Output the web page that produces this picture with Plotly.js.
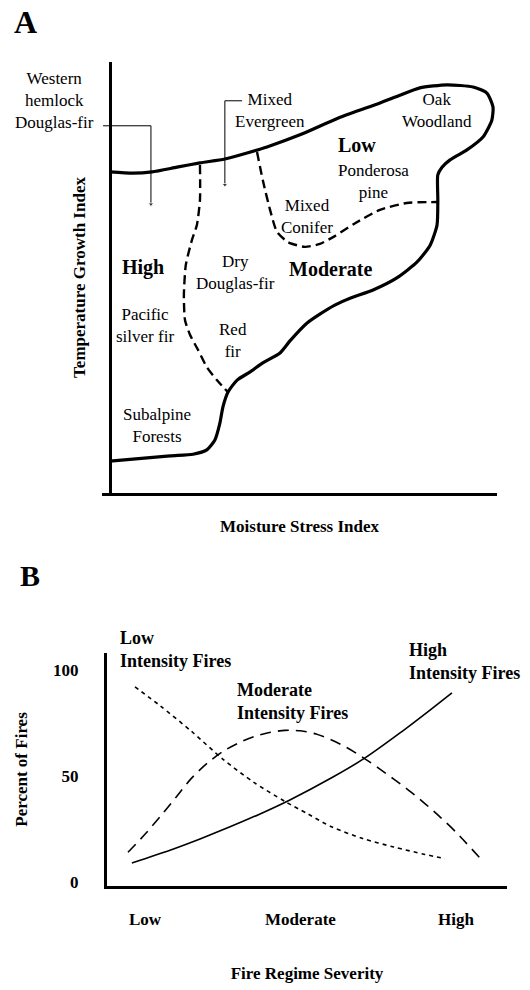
<!DOCTYPE html>
<html><head><meta charset="utf-8">
<script src="https://cdn.plot.ly/plotly-3.0.1.min.js"></script>
<style>html,body{margin:0;padding:0;background:#fff}</style>
</head><body><div id="chart" style="width:530px;height:990px"></div>
<script>
// ---------- Panel A: fire regimes in temperature / moisture space ----------
const boundaryX = [0, 6.0, 11.0, 17.5, 23.5, 30.0, 35.8, 41.0, 49.6, 60.1, 70.5, 75.7, 80.9, 88.0, 94.8, 98.4, 100.0, 99.7, 97.4, 93.2, 88.8, 86.7, 85.6, 85.6, 85.4, 83.6, 80.2, 74.9, 68.7, 62.7, 58.7, 54.8, 51.4, 47.0, 44.4, 39.9, 36.6, 33.2, 30.8, 29.5, 28.7, 27.4, 25.3, 21.7, 15.7, 0];
const boundaryY = [74.5, 74.2, 74.5, 75.6, 76.6, 77.5, 78.9, 80.3, 83.1, 87.2, 90.5, 92.3, 94.0, 94.7, 94.2, 92.8, 89.6, 86.5, 82.6, 79.6, 77.3, 75.6, 73.8, 68.0, 62.2, 57.5, 53.6, 49.9, 47.1, 45.2, 43.6, 41.5, 39.4, 35.3, 32.5, 30.2, 28.1, 26.2, 23.4, 20.0, 16.2, 12.3, 10.0, 9.0, 8.6, 7.4];
const highModX = [23.5, 23.5, 22.7, 21.4, 19.8, 19.3, 19.6, 20.9, 23.0, 25.3, 27.9, 30.8];
const highModY = [76.1, 68.0, 62.2, 58.7, 52.9, 45.9, 40.1, 36.7, 33.2, 29.2, 26.2, 23.4];
const modLowX = [38.4, 39.9, 41.8, 43.6, 46.5, 50.9, 54.8, 58.7, 64.0, 70.5, 77.5, 85.4];
const modLowY = [79.1, 72.6, 65.7, 60.6, 58.2, 57.1, 57.8, 59.6, 62.6, 65.7, 67.3, 67.5];
const hemlockLeaderX = [-1.8, 10.7, 10.7];
const hemlockLeaderY = [85.2, 85.2, 67.0];
const evergreenLeaderX = [34.5, 30.0, 30.0];
const evergreenLeaderY = [91.0, 91.0, 71.5];

// ---------- Panel B: percent of fires by fire regime severity ----------
const severityTicks = [1, 2, 3];
const severityLabels = ['Low', 'Moderate', 'High'];
const percentTicks = [0, 50, 100];
const percentLabels = ['0', '50', '100'];
const lowFiresX = [0.936, 1.1, 1.3, 1.5, 1.7, 1.9, 2.05, 2.2, 2.4, 2.6, 2.8, 2.929];
const lowFiresY = [92, 83, 71, 58, 47, 38, 32, 26, 20.5, 16.5, 13, 11];
const modFiresX = [0.891, 1.0, 1.1, 1.2, 1.3, 1.4, 1.5, 1.6, 1.7, 1.8, 1.9, 2.0, 2.1, 2.2, 2.3, 2.4, 2.5, 2.6, 2.7, 2.8, 2.9, 3.0, 3.154];
const modFiresY = [14, 22.5, 31, 40, 49, 56, 61.5, 65.5, 68.5, 70.5, 71.5, 71.3, 69.8, 67, 63.3, 58.8, 53.8, 48.5, 43, 37, 30.5, 23.5, 11.3];
const highFiresX = [0.916, 1.161, 1.354, 1.547, 1.740, 1.932, 2.209, 2.415, 2.640, 2.833, 2.974];
const highFiresY = [9.0, 15.0, 20.3, 26.0, 32.1, 38.7, 49.5, 58.5, 70.3, 81.1, 89.2];

const SERIF = 'Liberation Serif, Times New Roman, serif';
const W = 530, H = 990;
const PX = x => x / W, PY = y => 1 - y / H;

const traces = [
  {x: boundaryX, y: boundaryY, xaxis: 'x', yaxis: 'y', mode: 'lines',
   line: {color: '#000', width: 3.2, shape: 'spline', smoothing: 0.6}},
  {x: highModX, y: highModY, xaxis: 'x', yaxis: 'y', mode: 'lines',
   line: {color: '#000', width: 2.4, dash: '9px,5px', shape: 'spline', smoothing: 0.6}},
  {x: modLowX, y: modLowY, xaxis: 'x', yaxis: 'y', mode: 'lines',
   line: {color: '#000', width: 2.4, dash: '9px,5px', shape: 'spline', smoothing: 0.6}},
  {x: hemlockLeaderX, y: hemlockLeaderY, xaxis: 'x', yaxis: 'y', mode: 'lines+markers',
   line: {color: '#000', width: 1}, marker: {symbol: 'triangle-down', size: [0, 0, 5], color: '#000'}},
  {x: evergreenLeaderX, y: evergreenLeaderY, xaxis: 'x', yaxis: 'y', mode: 'lines+markers',
   line: {color: '#000', width: 1}, marker: {symbol: 'triangle-down', size: [0, 0, 5], color: '#000'}},
  {x: lowFiresX, y: lowFiresY, xaxis: 'x2', yaxis: 'y2', mode: 'lines',
   line: {color: '#000', width: 1.6, dash: '4px,4px', shape: 'spline', smoothing: 0.8}},
  {x: modFiresX, y: modFiresY, xaxis: 'x2', yaxis: 'y2', mode: 'lines',
   line: {color: '#000', width: 1.6, dash: '11px,7px', shape: 'spline', smoothing: 0.8}},
  {x: highFiresX, y: highFiresY, xaxis: 'x2', yaxis: 'y2', mode: 'lines',
   line: {color: '#000', width: 1.6, shape: 'spline', smoothing: 0.8}}
];

const reg = {family: SERIF, size: 17, color: '#000'};
const bold20 = {family: SERIF, size: 20, color: '#000', weight: 'bold'};
const boldB = {family: SERIF, size: 18, color: '#000', weight: 'bold'};
function note(x, y, text, font, extra) {
  return Object.assign({xref: 'paper', yref: 'paper', x: PX(x), y: PY(y), text: text,
    showarrow: false, font: font, xanchor: 'center', yanchor: 'middle', align: 'center'}, extra || {});
}

const annotations = [
  note(25, 22, 'A', {family: SERIF, size: 32, color: '#000', weight: 'bold'}),
  note(54, 101, 'Western<br>hemlock<br>Douglas-fir', reg),
  note(270, 111, 'Mixed<br>Evergreen', reg),
  note(437, 111, 'Oak<br>Woodland', reg),
  note(357, 145, 'Low', bold20),
  note(373, 182, 'Ponderosa<br>pine', reg),
  note(307, 217, 'Mixed<br>Conifer', reg),
  note(143, 268, 'High', bold20),
  note(235, 272, 'Dry<br>Douglas-fir', reg),
  note(330, 269, 'Moderate', bold20),
  note(145, 325, 'Pacific<br>silver fir', reg),
  note(233, 340, 'Red<br>fir', reg),
  note(157, 425, 'Subalpine<br>Forests', reg),
  note(30, 575, 'B', {family: SERIF, size: 30, color: '#000', weight: 'bold'}),
  note(118, 649, 'Low<br>Intensity Fires', boldB, {xanchor: 'left', align: 'left'}),
  note(235, 701, 'Moderate<br>Intensity Fires', boldB, {xanchor: 'left', align: 'left'}),
  note(407, 661, 'High<br>Intensity Fires', boldB, {xanchor: 'left', align: 'left'})
];

const layout = {
  width: W, height: H,
  margin: {l: 0, r: 0, t: 0, b: 0},
  paper_bgcolor: '#fff', plot_bgcolor: 'rgba(0,0,0,0)',
  showlegend: false, hovermode: false,
  xaxis: {domain: [PX(102.3), PX(496.8)], range: [-2, 101], anchor: 'y',
    showline: true, linewidth: 3, linecolor: '#000', showgrid: false, zeroline: false,
    showticklabels: false, ticks: '',
    title: {text: 'Moisture Stress Index', font: {family: SERIF, size: 17, color: '#000', weight: 'bold'}, standoff: 26}},
  yaxis: {domain: [PY(493), PY(62)], range: [0, 100], anchor: 'free', position: PX(110),
    showline: true, linewidth: 3, linecolor: '#000', showgrid: false, zeroline: false,
    showticklabels: false, ticks: '',
    title: {text: 'Temperature Growth Index', font: {family: SERIF, size: 17, color: '#000', weight: 'bold'}, standoff: 18}},
  xaxis2: {domain: [PX(107), PX(507)], range: [0.756, 3.328], anchor: 'y2',
    showline: true, linewidth: 3, linecolor: '#000', showgrid: false, zeroline: false,
    tickmode: 'array', tickvals: severityTicks, ticktext: severityLabels, ticks: '',
    ticklabelstandoff: 16, tickfont: {family: SERIF, size: 17, color: '#000', weight: 'bold'},
    title: {text: 'Fire Regime Severity', font: {family: SERIF, size: 17, color: '#000', weight: 'bold'}, standoff: 39}},
  yaxis2: {domain: [PY(886), PY(653)], range: [-1.9, 108], anchor: 'x2',
    showline: true, linewidth: 3, linecolor: '#000', showgrid: false, zeroline: false,
    tickmode: 'array', tickvals: percentTicks, ticktext: percentLabels, ticks: '',
    ticklabelstandoff: 22, tickfont: {family: SERIF, size: 17, color: '#000', weight: 'bold'},
    title: {text: 'Percent of Fires', font: {family: SERIF, size: 17, color: '#000', weight: 'bold'}, standoff: 22}},
  annotations: annotations
};

Plotly.newPlot('chart', traces, layout, {staticPlot: true, displayModeBar: false});
</script>
</body></html>
